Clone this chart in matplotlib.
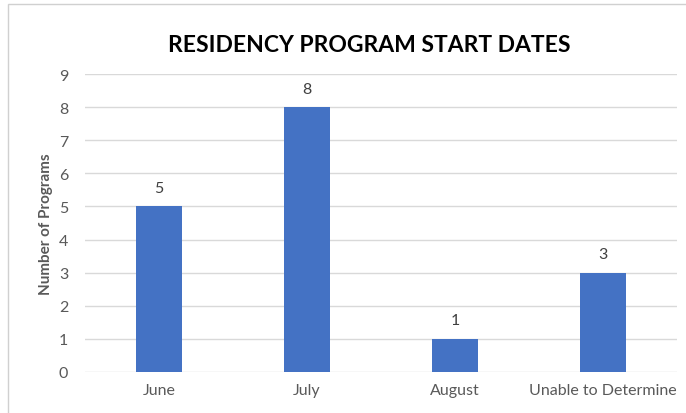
import numpy as np
import matplotlib
matplotlib.use('Agg')
import matplotlib.pyplot as plt
from matplotlib.patches import Rectangle

categories = ["June", "July", "August", "Unable to Determine"]
programs = [5, 8, 1, 3]
yticks = list(range(0, 10))

plt.rcParams['font.family'] = ['Lato', 'DejaVu Sans']

fig = plt.figure(figsize=(6.86, 4.14), dpi=100)
ax = fig.add_axes([85/686, 1-373/414, 592/686, 298/414])

x = np.arange(len(categories))
bars = ax.bar(x, programs, width=0.31, color='#4472C4', zorder=3)

for b, v in zip(bars, programs):
    ax.text(b.get_x() + b.get_width()/2, v + 0.35, str(v), ha='center', va='bottom',
            fontsize=11.5, color='#404040')

ax.set_xlim(-0.5, len(categories) - 0.5)
ax.set_ylim(0, 9)
ax.set_yticks(yticks)
ax.set_xticks(x)
ax.set_xticklabels(categories)
ax.tick_params(axis='both', length=0, labelsize=11.5, colors='#595959')
ax.tick_params(axis='y', pad=12)
ax.tick_params(axis='x', pad=8)
ax.grid(axis='y', color='#D9D9D9', linewidth=1, zorder=0)
for s in ax.spines.values():
    s.set_visible(False)

ax.set_ylabel("Number of Programs", fontsize=11, fontweight='bold', color='#595959', labelpad=4)

fig.text(369/686, 1-45/414, "RESIDENCY PROGRAM START DATES", ha='center', va='center',
         fontsize=16.5, fontweight='bold', color='#000000')

# chart border
fig.patches.append(Rectangle((8/686, -0.05), 1.0, 1 - 5/414 + 0.05, transform=fig.transFigure,
                             fill=False, edgecolor='#D0D0D0', linewidth=1))

fig.savefig('out.png', dpi=100)
